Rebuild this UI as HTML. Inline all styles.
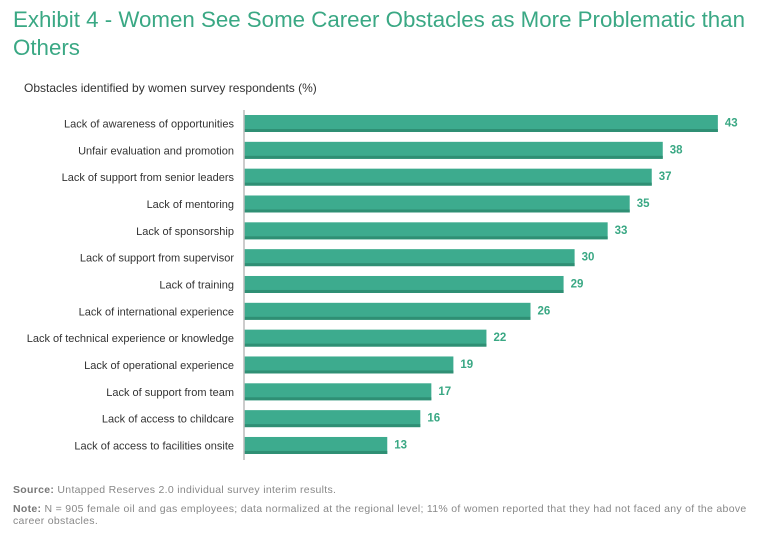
<!DOCTYPE html>
<html><head><meta charset="utf-8"><style>
body{margin:0;width:768px;height:539px;background:#fff;font-family:"Liberation Sans",sans-serif;position:relative;overflow:hidden}
.t{position:absolute;left:13px;top:6px;font-size:22.3px;line-height:28px;color:#3aa884;white-space:nowrap}
.st{position:absolute;left:24px;top:81px;font-size:12px;color:#333}
.f{position:absolute;left:13px;font-size:10.5px;color:#888;line-height:12px;letter-spacing:0.3px}
.f b{color:#777}
</style></head><body>
<div class="t">Exhibit 4 - Women See Some Career Obstacles as More Problematic than<br>Others</div>
<div class="st">Obstacles identified by women survey respondents (%)</div>
<svg id="c" width="768" height="539" style="position:absolute;left:0;top:0"></svg>
<div class="f" style="top:484px"><b>Source:</b> Untapped Reserves 2.0 individual survey interim results.</div>
<div class="f" style="top:503px;white-space:nowrap"><b>Note:</b> N = 905 female oil and gas employees; data normalized at the regional level; 11% of women reported that they had not faced any of the above<br>career obstacles.</div>
<script>
const categories=["Lack of awareness of opportunities","Unfair evaluation and promotion","Lack of support from senior leaders","Lack of mentoring","Lack of sponsorship","Lack of support from supervisor","Lack of training","Lack of international experience","Lack of technical experience or knowledge","Lack of operational experience","Lack of support from team","Lack of access to childcare","Lack of access to facilities onsite"];
const values=[43,38,37,35,33,30,29,26,22,19,17,16,13];
const NS="http://www.w3.org/2000/svg",svg=document.getElementById('c');
const x0=244,k=11.02,y0=115,step=26.83,h=17;
const xs=v=>x0+v*k, ys=i=>y0+i*step;
function el(t,a){const e=document.createElementNS(NS,t);for(const n in a)e.setAttribute(n,a[n]);svg.appendChild(e);return e;}
categories.forEach((c,i)=>{
 const y=ys(i),w=xs(values[i])-x0;
 const g=el('rect',{x:x0,y:y,width:w,height:h,fill:'#3dab8e'});
 
 
 const s=el('rect',{x:x0,y:y+h-3,width:w,height:3,fill:'#2f8f74'});
 
 
 const l=el('text',{x:234,y:y+12.5,'text-anchor':'end','font-size':'11',fill:'#333'});l.textContent=c;
 
 
 const v=el('text',{x:xs(values[i])+7,y:y+11.5,'font-size':'11.5','font-weight':'bold',fill:'#3aa884'});v.textContent=values[i];
 
 
});
const ax=el('line',{x1:x0,x2:x0,y1:110,y2:460,stroke:'#bbb','stroke-width':1.5});


</script>
</body></html>
